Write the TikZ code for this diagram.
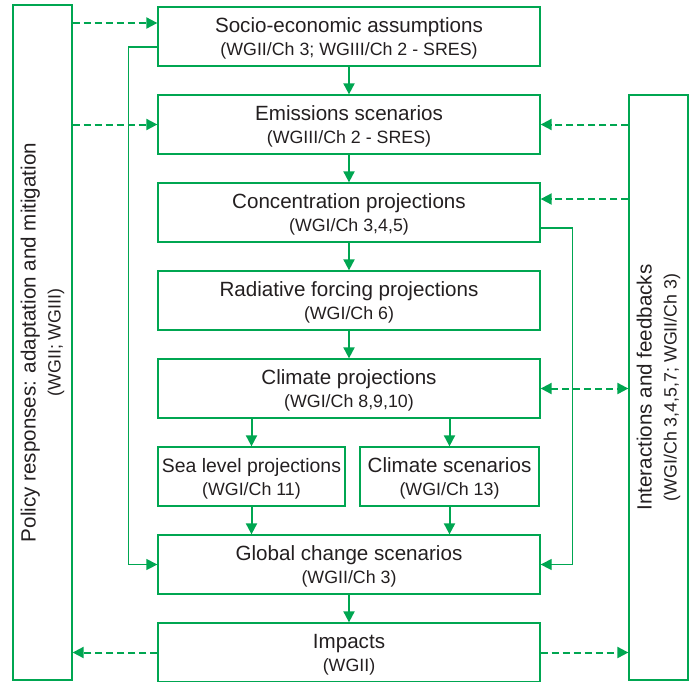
\documentclass[tikz,border=0pt]{standalone}
\usepackage{fontspec}
\setmainfont{Liberation Sans}
\usetikzlibrary{arrows.meta}
\definecolor{ipccgreen}{RGB}{0,166,81}
\definecolor{ipcctext}{RGB}{35,31,32}
\newcommand{\subtxt}[1]{{\fontsize{8.9}{11.5}\selectfont #1}}

\begin{document}
\begin{tikzpicture}[x=0.5pt,y=-0.5pt,
  >={Triangle[length=5.5pt,width=5.5pt]},
  box/.style={draw=ipccgreen,line width=0.65pt,minimum width=191pt,minimum height=29.5pt,
    inner sep=0pt,align=center,text=ipcctext,text depth=0pt,font=\fontsize{10.3}{11.5}\selectfont},
  sidebox/.style={draw=ipccgreen,line width=0.65pt,minimum width=29.5pt,inner sep=0pt},
  sidetext/.style={rotate=90,align=center,text=ipcctext,font=\fontsize{10.3}{12.5}\selectfont},
  link/.style={draw=ipccgreen,line width=1pt},
  thinlink/.style={draw=ipccgreen,line width=0.65pt},
  feed/.style={link,dash pattern=on 3.5pt off 2pt}]
\useasboundingbox (0,0) rectangle (694,681);
\node [box] (socio) at (349,36.5) {Socio-economic assumptions\\\subtxt{(WGII/Ch 3; WGIII/Ch 2 - SRES)}};
\node [box] (emis) at (349,124.5) {Emissions scenarios\\\subtxt{(WGIII/Ch 2 - SRES)}};
\node [box] (conc) at (349,212.5) {Concentration projections\\\subtxt{(WGI/Ch 3,4,5)}};
\node [box] (rad) at (349,300.5) {Radiative forcing projections\\\subtxt{(WGI/Ch 6)}};
\node [box] (clim) at (349,388.5) {Climate projections\\\subtxt{(WGI/Ch 8,9,10)}};
\node [box,minimum width=93.5pt,font=\fontsize{9.7}{11.5}\selectfont] (sea) at (251.5,476.5) {Sea level projections\\\subtxt{(WGI/Ch 11)}};
\node [box,minimum width=89.5pt] (cscen) at (449.5,476.5) {Climate scenarios\\\subtxt{(WGI/Ch 13)}};
\node [box] (glob) at (349,564.5) {Global change scenarios\\\subtxt{(WGII/Ch 3)}};
\node [box] (imp) at (349,652.5) {Impacts\\\subtxt{(WGII)}};
\node [sidebox,minimum height=337.5pt] (policy) at (42.5,342.5) {};
\node [sidetext] (policytxt) at (policy.center) {Policy responses: adaptation and mitigation\\\subtxt{(WGII; WGIII)}};
\node [sidebox,minimum height=292.5pt] (inter) at (658.5,387.5) {};
\node [sidetext] (intertxt) at (inter.center) {Interactions and feedbacks\\\subtxt{(WGI/Ch 3,4,5,7; WGII/Ch 3)}};
\coordinate (socioin) at ([yshift=6.75pt]socio.west);
\coordinate (concin) at ([yshift=6.75pt]conc.east);
\draw [link,->] (socio) -- (emis);
\draw [link,->] (emis) -- (conc);
\draw [link,->] (conc) -- (rad);
\draw [link,->] (rad) -- (clim);
\draw [link,->] (clim.south -| sea.north) -- (sea.north);
\draw [link,->] (clim.south -| cscen.north) -- (cscen.north);
\draw [link,->] (sea.south) -- (sea.south |- glob.north);
\draw [link,->] (cscen.south) -- (cscen.south |- glob.north);
\draw [link,->] (glob) -- (imp);
\draw [thinlink,->] ([yshift=-5.25pt]socio.west) -- ++(-29,0) |- (glob.west);
\draw [thinlink,->] ([yshift=-7.75pt]conc.east) -- ++(32,0) |- (glob.east);
\draw [feed,->] (policy.east |- socioin) -- (socioin);
\draw [feed,->] (policy.east |- emis.west) -- (emis.west);
\draw [feed,->] (imp.west) -- (policy.east |- imp.west);
\draw [feed,->] (inter.west |- emis.east) -- (emis.east);
\draw [feed,->] (inter.west |- concin) -- (concin);
\draw [feed,<->] (clim.east) -- (clim.east -| inter.west);
\draw [feed,->] (imp.east) -- (imp.east -| inter.west);
\end{tikzpicture}
\end{document}
